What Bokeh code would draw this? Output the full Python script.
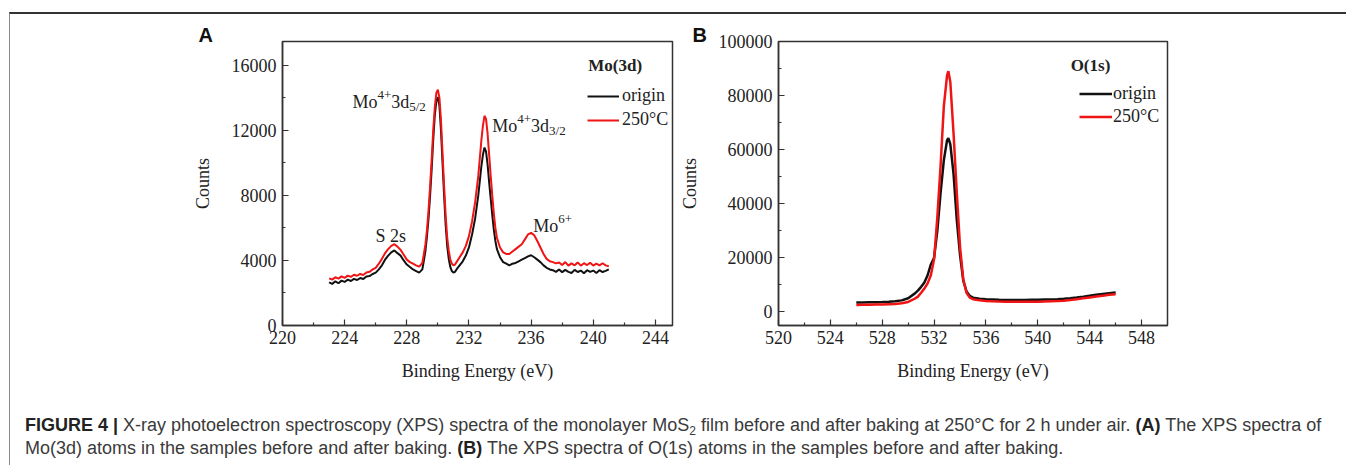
from bokeh.plotting import figure
from bokeh.models import Range1d, Label, Legend, LegendItem, FixedTicker, Div, BasicTickFormatter, Title
from bokeh.layouts import row, column
from bokeh.embed import file_html
from bokeh.resources import INLINE

# ---------------- data: panel A, Mo(3d) ----------------
a_energy = [223.0, 223.2, 223.4, 223.6, 223.8, 224.0, 224.2, 224.4, 224.6, 224.8,
            225.0, 225.2, 225.4, 225.6, 225.8, 226.0, 226.2, 226.4, 226.6, 226.8,
            227.0, 227.2, 227.4, 227.6, 227.8, 228.0, 228.2, 228.4, 228.6, 228.8, 229.0,
            229.1, 229.2, 229.3, 229.4, 229.5, 229.6, 229.7, 229.8, 229.9, 230.0,
            230.1, 230.2, 230.3, 230.4, 230.5, 230.6, 230.7, 230.8, 230.9, 231.0, 231.1, 231.2,
            231.4, 231.6, 231.8, 232.0, 232.2, 232.4, 232.6,
            232.7, 232.8, 232.9, 233.0, 233.1, 233.2, 233.3, 233.4, 233.5, 233.6, 233.7, 233.8,
            234.0, 234.2, 234.4, 234.6, 234.8, 235.0, 235.2, 235.4, 235.6, 235.8,
            236.0, 236.2, 236.4, 236.6, 236.8, 237.0, 237.2, 237.4, 237.6, 237.8,
            238.0, 238.2, 238.4, 238.6, 238.8, 239.0, 239.2, 239.4, 239.6, 239.8,
            240.0, 240.2, 240.4, 240.6, 240.8, 241.0]
a_origin = [2650, 2560, 2720, 2600, 2760, 2680, 2820, 2740, 2870, 2800,
            2920, 2860, 3020, 3040, 3170, 3250, 3450, 3700, 4050, 4300,
            4500, 4620, 4450, 4300, 4000, 3750, 3600, 3450, 3350, 3250, 3450,
            4000, 4600, 5500, 6600, 8000, 9600, 11400, 12900, 13800, 14050,
            13500, 12000, 10000, 8000, 6200, 4900, 4100, 3600, 3350, 3250, 3300, 3450,
            3700, 3950, 4300, 4800, 5600, 6600, 8000,
            8900, 9800, 10500, 10950, 10700, 9900, 8800, 7800, 6800, 5900, 5200, 4700,
            4200, 3900, 3800, 3700, 3800, 3850, 3950, 4050, 4150, 4250,
            4320, 4200, 4050, 3900, 3700, 3550, 3450, 3400, 3300, 3450,
            3280, 3420, 3300, 3230, 3420, 3290, 3380, 3220, 3400, 3300,
            3380, 3230, 3400, 3290, 3360, 3450]
a_250 = [2900, 2820, 2970, 2880, 3020, 2930, 3070, 2990, 3120, 3060,
         3170, 3110, 3260, 3300, 3450, 3550, 3800, 4100, 4450, 4700,
         4900, 5000, 4850, 4650, 4350, 4050, 3900, 3800, 3700, 3620, 3850,
         4400, 5000, 5900, 7100, 8600, 10200, 12000, 13400, 14300, 14500,
         14000, 12600, 10600, 8600, 6800, 5400, 4600, 4050, 3800, 3700, 3750, 3900,
         4200, 4500, 4900, 5500, 6400, 7600, 9200,
         10300, 11400, 12300, 12900, 12700, 11800, 10500, 9200, 8000, 6900, 6000, 5400,
         4800, 4500, 4400, 4400, 4550, 4700, 4850, 5000, 5300, 5600,
         5700, 5550, 5200, 4800, 4400, 4100, 3950, 3900, 3820, 3880,
         3720, 3900, 3680, 3820, 3700, 3880, 3680, 3830, 3720, 3860,
         3690, 3800, 3700, 3830, 3700, 3650]

# ---------------- data: panel B, O(1s) ----------------
b_energy = [526.0, 526.5, 527.0, 527.5, 528.0, 528.5, 529.0, 529.5, 530.0,
            530.5, 530.75, 531.0, 531.25, 531.5, 531.75, 532.0, 532.25, 532.5, 532.75,
            533.0, 533.1, 533.25, 533.5, 533.75, 534.0, 534.25, 534.5, 534.75, 535.0,
            535.5, 536.0, 536.5, 537.0, 537.5, 538.0, 538.5, 539.0, 539.5, 540.0,
            540.5, 541.0, 541.5, 542.0, 542.5, 543.0, 543.5, 544.0, 544.5, 545.0,
            545.5, 546.0]
b_origin = [3400, 3450, 3500, 3550, 3600, 3700, 3850, 4200, 5000,
            6700, 7800, 9200, 10800, 13500, 17500, 20000, 30000, 44000, 56000,
            63500, 64200, 62000, 51000, 34000, 21000, 11500, 7500, 5900, 5200,
            4800, 4600, 4500, 4400, 4350, 4300, 4350, 4300, 4400, 4450,
            4500, 4550, 4650, 4800, 5000, 5250, 5550, 5900, 6250, 6550,
            6850, 7100]
b_250 = [2500, 2550, 2600, 2650, 2700, 2800, 2900, 3100, 3600,
         4800, 5600, 7000, 8600, 10500, 13500, 19500, 35000, 54000, 76000,
         87500, 89000, 85000, 66000, 44000, 24000, 12000, 7000, 5200, 4650,
         4200, 4000, 3850, 3750, 3700, 3650, 3650, 3650, 3650, 3700,
         3750, 3850, 3950, 4100, 4300, 4600, 4950, 5300, 5650, 5950,
         6250, 6500]

a_xticks = [220, 224, 228, 232, 236, 240, 244]
a_xminor = [222, 226, 230, 234, 238, 242]
a_yticks = [0, 4000, 8000, 12000, 16000]
a_yminor = [2000, 6000, 10000, 14000]
b_xticks = [520, 524, 528, 532, 536, 540, 544, 548]
b_xminor = [522, 526, 530, 534, 538, 542, 546]
b_yticks = [0, 20000, 40000, 60000, 80000, 100000]
b_yminor = [10000, 30000, 50000, 70000, 90000]
series_names = ["origin", "250°C"]

SERIF = "Liberation Serif"
INK = "#222222"
FRAME = "#333333"
BLACK = "#111111"
RED = "#f01414"


def style(p, xt, xm, yt, ym):
    p.outline_line_color = FRAME
    p.outline_line_width = 1.5
    p.xgrid.visible = False
    p.ygrid.visible = False
    p.xaxis.ticker = FixedTicker(ticks=xt, minor_ticks=xm)
    p.yaxis.ticker = FixedTicker(ticks=yt, minor_ticks=ym)
    p.yaxis.formatter = BasicTickFormatter(use_scientific=False)
    for ax in (p.xaxis[0], p.yaxis[0]):
        ax.axis_line_color = FRAME
        ax.axis_line_width = 1.5
        ax.major_tick_in = 6
        ax.major_tick_out = 0
        ax.minor_tick_in = 3
        ax.minor_tick_out = 0
        ax.major_tick_line_color = FRAME
        ax.minor_tick_line_color = FRAME
        ax.major_tick_line_width = 1.2
        ax.minor_tick_line_width = 1.2
        ax.major_label_text_font = SERIF
        ax.major_label_text_font_size = "18px"
        ax.major_label_text_color = INK
        ax.axis_label_text_font = SERIF
        ax.axis_label_text_font_size = "18px"
        ax.axis_label_text_font_style = "normal"
        ax.axis_label_text_color = INK
    p.xaxis.major_label_standoff = 5
    p.yaxis.major_label_standoff = 6
    p.xaxis.axis_label_standoff = 14
    p.yaxis.axis_label_standoff = 16


def lab(p, x, y, text, size="18px", fstyle="normal", font=SERIF, xo=0, yo=0, baseline="alphabetic"):
    p.add_layout(Label(x=x, y=y, text=text, x_offset=xo, y_offset=yo, text_font=font,
                       text_font_size=size, text_font_style=fstyle, text_color=INK,
                       text_baseline=baseline, text_align="left"))


def rich(p, x, y, pieces):
    xo = 0
    for text, size, dy, w in pieces:
        lab(p, x, y, text, size=f"{size}px", xo=xo, yo=dy)
        xo += w


def panel_title(text, offset):
    return Title(text=text, align="left", offset=offset, standoff=-8,
                 text_font="Liberation Sans", text_font_size="20px",
                 text_font_style="bold", text_color="#111111")


# ---------------- panel A ----------------
pA = figure(width=666, height=375, output_backend="svg", toolbar_location=None,
            x_range=Range1d(220, 245.1), y_range=Range1d(0, 17470),
            min_border_left=272, min_border_right=4, min_border_top=27, min_border_bottom=62,
            x_axis_label="Binding Energy (eV)", y_axis_label="Counts",
            title=panel_title("A", -84))
style(pA, a_xticks, a_xminor, a_yticks, a_yminor)
ra0 = pA.line(a_energy, a_origin, line_color=BLACK, line_width=2)
ra1 = pA.line(a_energy, a_250, line_color=RED, line_width=2)
legA = Legend(items=[LegendItem(label=series_names[0], renderers=[ra0]),
                     LegendItem(label=series_names[1], renderers=[ra1])],
              location=(305, 195), padding=0, margin=0, border_line_color=None,
              background_fill_alpha=0, glyph_width=32, glyph_height=18, label_height=18,
              label_standoff=3, spacing=3, label_text_font=SERIF, label_text_font_size="18px",
              label_text_color=INK)
pA.add_layout(legA)
lab(pA, 239.68, 16000, "Mo(3d)", size="17px", fstyle="bold", baseline="middle")
rich(pA, 224.5, 13777, [("Mo", 18, 0, 25.0), ("4+", 13, 7, 13.8), ("3d", 18, 0, 18.0), ("5/2", 13, -5, 16.6)])
rich(pA, 233.5, 12282, [("Mo", 18, 0, 25.0), ("4+", 13, 7, 13.8), ("3d", 18, 0, 18.0), ("3/2", 13, -5, 16.6)])
lab(pA, 225.98, 5509, "S 2s")
rich(pA, 236.14, 6090, [("Mo", 18, 0, 25.0), ("6+", 13, 7, 13.8)])

# ---------------- panel B ----------------
pB = figure(width=660, height=375, output_backend="svg", toolbar_location=None,
            x_range=Range1d(520, 550), y_range=Range1d(-5100, 100000),
            min_border_left=102, min_border_right=169, min_border_top=24, min_border_bottom=64,
            x_axis_label="Binding Energy (eV)", y_axis_label="Counts",
            title=panel_title("B", -86))
style(pB, b_xticks, b_xminor, b_yticks, b_yminor)
rb0 = pB.line(b_energy, b_origin, line_color=BLACK, line_width=2.5)
rb1 = pB.line(b_energy, b_250, line_color=RED, line_width=2.5)
legB = Legend(items=[LegendItem(label=series_names[0], renderers=[rb0]),
                     LegendItem(label=series_names[1], renderers=[rb1])],
              location=(301, 198), padding=0, margin=0, border_line_color=None,
              background_fill_alpha=0, glyph_width=33, glyph_height=17, label_height=17,
              label_standoff=1, spacing=2, label_text_font=SERIF, label_text_font_size="18px",
              label_text_color=INK)
pB.add_layout(legB)
lab(pB, 542.53, 90943, "O(1s)", size="17px", fstyle="bold", baseline="middle")

# ---------------- caption ----------------
caption_html = (
    '<div style="padding:20px 0 0 10px; font-family:\'Liberation Sans\', Arial, sans-serif; '
    'font-size:18px; line-height:23px; color:#3a3a3a; white-space:nowrap;">'
    '<b style="color:#222">FIGURE 4 |</b><span> X-ray photoelectron spectroscopy (XPS) spectra of the '
    'monolayer MoS</span><span style="font-size:12px; position:relative; top:4px; line-height:0;">2</span>'
    '<span> film before and after baking at 250°C '
    'for 2 h under air. </span><b style="color:#222">(A)</b><span> The XPS spectra of</span><br>'
    '<span>Mo(3d) atoms in the samples before and after baking. </span><b style="color:#222">(B)</b>'
    '<span> The XPS spectra of O(1s) atoms in the samples before and after baking.</span></div>'
)
cap = Div(text=caption_html, width=1326, height=74, styles={"overflow": "hidden"})

layout = column(row(pA, pB), cap,
                styles={"border-top": "2px solid #333333", "border-left": "1px solid #8a8a8a",
                        "margin-top": "12px", "margin-left": "9px"})

open("out.html", "w").write(file_html(layout, INLINE))
